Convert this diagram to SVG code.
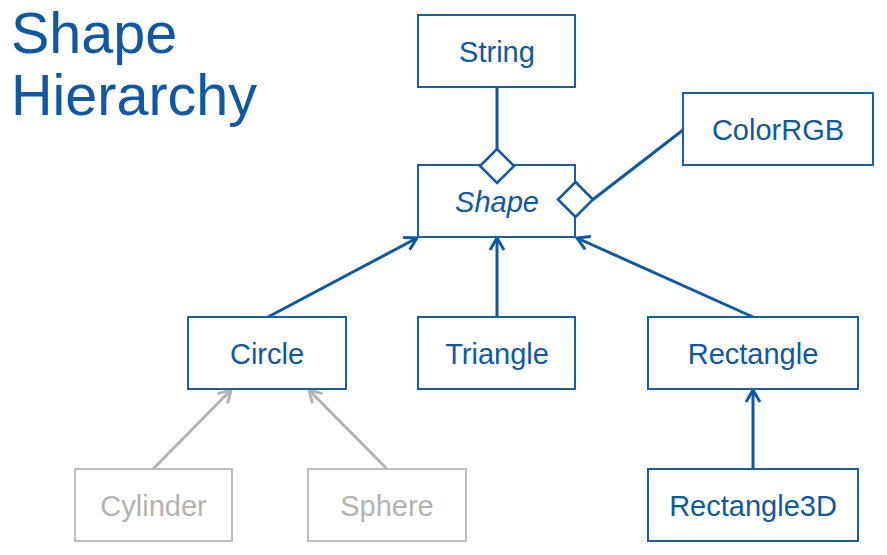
<svg xmlns="http://www.w3.org/2000/svg" width="887" height="555" viewBox="0 0 887 555">
<style>
.box{fill:#fff;stroke:#1A5EA8;stroke-width:2}
.gbox{fill:#fff;stroke:#BDBDBD;stroke-width:2}
.t{font-family:"Liberation Sans",Arial,sans-serif;font-size:29px;fill:#0F58A3;text-anchor:middle}
.gt{font-family:"Liberation Sans",Arial,sans-serif;font-size:29px;fill:#B3B3B3;text-anchor:middle}
.title{font-family:"Liberation Sans",Arial,sans-serif;font-size:57.5px;fill:#0F58A3}
.c{stroke:#0F58A3;stroke-width:3;fill:none}
.gc{stroke:#B3B3B3;stroke-width:3;fill:none}
.dia{fill:#fff;stroke:#0F58A3;stroke-width:2.5}
</style>
<defs>
<marker id="ab" markerUnits="userSpaceOnUse" markerWidth="20" markerHeight="20" refX="0" refY="0" viewBox="-15 -10 20 20" orient="auto">
<path d="M-12,-7 L0,0 L-12,7" fill="none" stroke="#0F58A3" stroke-width="3"/>
</marker>
<marker id="ag" markerUnits="userSpaceOnUse" markerWidth="20" markerHeight="20" refX="0" refY="0" viewBox="-15 -10 20 20" orient="auto">
<path d="M-12,-7 L0,0 L-12,7" fill="none" stroke="#B3B3B3" stroke-width="3"/>
</marker>
</defs>
<rect width="887" height="555" fill="#fff"/>
<g id="title">
<text class="title" x="11" y="52.5">Shape</text>
<text class="title" x="11" y="115">Hierarchy</text>
</g>
<g id="connectors">
<line class="c" x1="497" y1="87" x2="497" y2="149"/>
<line class="c" x1="593" y1="199.5" x2="683" y2="130"/>
<line class="c" x1="268" y1="317" x2="417" y2="238" marker-end="url(#ab)"/>
<line class="c" x1="497" y1="317" x2="497" y2="238" marker-end="url(#ab)"/>
<line class="c" x1="753" y1="317" x2="577" y2="238" marker-end="url(#ab)"/>
<line class="c" x1="753" y1="469" x2="753" y2="390" marker-end="url(#ab)"/>
<line class="gc" x1="153" y1="469" x2="231" y2="390" marker-end="url(#ag)"/>
<line class="gc" x1="387" y1="469" x2="309" y2="390" marker-end="url(#ag)"/>
</g>
<g id="String">
<rect class="box" x="418" y="15" width="157" height="72"/>
<text class="t" x="497" y="61.5">String</text>
</g>
<g id="ColorRGB">
<rect class="box" x="683" y="93" width="190" height="72"/>
<text class="t" x="778" y="139.5">ColorRGB</text>
</g>
<g id="Shape">
<rect class="box" x="418" y="165" width="157" height="72"/>
<text class="t" x="497" y="211.5" font-style="italic">Shape</text>
<path class="dia" d="M497,149 L514,166 L497,183 L480,166 Z"/>
<path class="dia" d="M575.5,182 L593,199.5 L575.5,217 L558,199.5 Z"/>
</g>
<g id="Circle">
<rect class="box" x="188" y="317" width="158" height="72"/>
<text class="t" x="267" y="363.5">Circle</text>
</g>
<g id="Triangle">
<rect class="box" x="418" y="317" width="157" height="72"/>
<text class="t" x="497" y="363.5">Triangle</text>
</g>
<g id="Rectangle">
<rect class="box" x="648" y="317" width="210" height="72"/>
<text class="t" x="753" y="363.5">Rectangle</text>
</g>
<g id="Cylinder">
<rect class="gbox" x="75" y="469" width="157" height="72"/>
<text class="gt" x="153.5" y="515.5">Cylinder</text>
</g>
<g id="Sphere">
<rect class="gbox" x="308" y="469" width="158" height="72"/>
<text class="gt" x="387" y="515.5">Sphere</text>
</g>
<g id="Rectangle3D">
<rect class="box" x="648" y="469" width="210" height="72"/>
<text class="t" x="753" y="515.5">Rectangle3D</text>
</g>
</svg>
